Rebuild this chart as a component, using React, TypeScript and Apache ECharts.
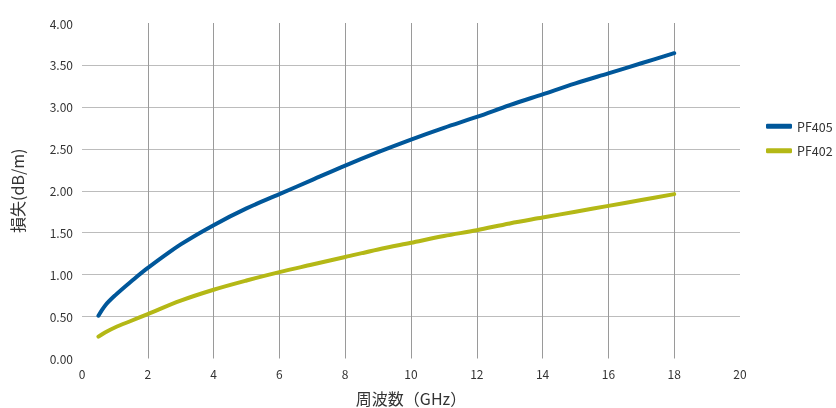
import React, { useEffect, useRef } from "react";
import * as echarts from "echarts";

const freqs = [0.5, 0.7, 1, 1.5, 2, 3, 4, 5, 6, 7, 8, 9, 10, 11, 12, 13, 14, 15, 16, 17, 18];
const pf405 = [0.51, 0.63, 0.75, 0.92, 1.08, 1.36, 1.59, 1.79, 1.96, 2.13, 2.3, 2.46, 2.61, 2.75, 2.88, 3.02, 3.15, 3.28, 3.4, 3.52, 3.64];
const pf402 = [0.26, 0.31, 0.37, 0.45, 0.53, 0.69, 0.82, 0.93, 1.03, 1.12, 1.21, 1.3, 1.38, 1.46, 1.53, 1.61, 1.68, 1.75, 1.82, 1.89, 1.96];
const seriesNames = ["PF405", "PF402"];
const xTitle = "周波数（GHz）";
const yTitle = "損失(dB/m)";

const FONT = "'Noto Sans CJK JP', 'Noto Sans', sans-serif";

export default function App() {
  const ref = useRef<HTMLDivElement>(null);
  useEffect(() => {
    if (!ref.current) return;
    const chart = echarts.init(ref.current, undefined, { renderer: "svg" });
    const mk = (ys: number[]) => freqs.map((x, i) => [x, ys[i]]);
    chart.setOption({
      animation: false,
      textStyle: { fontFamily: FONT },
      grid: { left: 82, top: 23, width: 658, height: 335.5, containLabel: false, outerBoundsMode: "none" },
      legend: {
        orient: "vertical",
        left: 766,
        top: 120,
        padding: 0,
        itemWidth: 26,
        itemHeight: 5,
        itemGap: 12,
        icon: "roundRect",
        textStyle: { fontSize: 12.5, color: "#333", fontFamily: FONT },
        data: seriesNames,
      },
      xAxis: {
        type: "value",
        min: 0,
        max: 20,
        interval: 2,
        name: xTitle,
        nameLocation: "middle",
        nameGap: 31,
        nameTextStyle: { fontSize: 16, color: "#333", fontFamily: FONT },
        axisLine: { show: false },
        axisTick: { show: false },
        axisLabel: { fontSize: 12, color: "#333", margin: 9, fontFamily: FONT },
        splitLine: { show: true, showMinLine: false, showMaxLine: false, lineStyle: { color: "#9a9a9a", width: 1 } },
      },
      yAxis: {
        type: "value",
        min: 0,
        max: 4,
        interval: 0.5,
        name: yTitle,
        nameLocation: "middle",
        nameGap: 57,
        nameTextStyle: { fontSize: 16, color: "#333", fontFamily: FONT },
        axisLine: { show: false },
        axisTick: { show: false },
        axisLabel: { fontSize: 12, color: "#333", margin: 9, fontFamily: FONT, formatter: (v: number) => v.toFixed(2) },
        splitLine: { show: true, showMinLine: false, showMaxLine: false, lineStyle: { color: "#bcbcbc", width: 1 } },
      },
      series: [
        {
          name: seriesNames[0],
          type: "line",
          smooth: 0.35,
          showSymbol: false,
          symbol: "none",
          data: mk(pf405),
          itemStyle: { color: "#00579a" },
          lineStyle: { color: "#00579a", width: 4, cap: "round" },
        },
        {
          name: seriesNames[1],
          type: "line",
          smooth: 0.35,
          showSymbol: false,
          symbol: "none",
          data: mk(pf402),
          itemStyle: { color: "#b4b816" },
          lineStyle: { color: "#b4b816", width: 4, cap: "round" },
        },
      ],
    });
    return () => chart.dispose();
  }, []);
  return <div ref={ref} style={{ position: "fixed", left: 0, top: 0, width: 836, height: 408 }} />;
}
